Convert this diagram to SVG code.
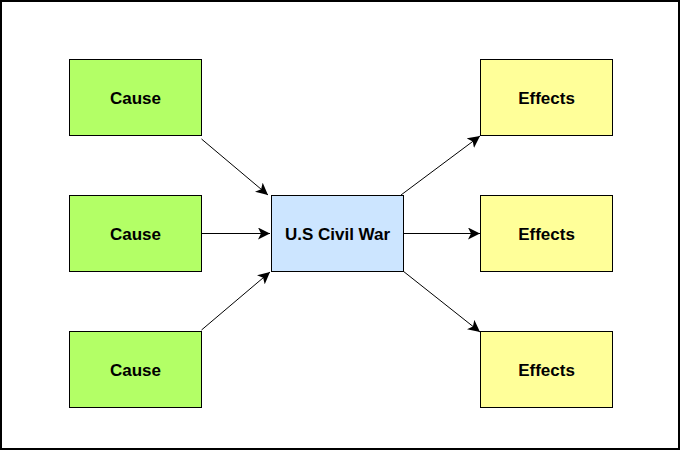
<svg xmlns="http://www.w3.org/2000/svg" width="680" height="450" viewBox="0 0 680 450">
<style>
.b{stroke:#000;stroke-width:1}
.c{fill:#b3ff66}.e{fill:#ffff99}.m{fill:#cce5ff}
text{font-family:"Liberation Sans",Arial,sans-serif;font-weight:bold;font-size:17px;text-anchor:middle;dominant-baseline:central}
.l{stroke:#000;stroke-width:1;fill:none;marker-end:url(#a)}
</style>
<defs><marker id="a" viewBox="0 0 10 10" refX="10" refY="5" markerWidth="12" markerHeight="12" markerUnits="userSpaceOnUse" orient="auto"><path d="M0,0L10,5L0,10L2.5,5Z" fill="#000"/></marker></defs>
<rect x="1" y="1" width="678" height="448" fill="#fff" stroke="#000" stroke-width="2"/>
<g id="cause1"><rect class="b c" x="69.5" y="59.5" width="132" height="76"/><text x="135.5" y="98">Cause</text></g>
<g id="cause2"><rect class="b c" x="69.5" y="195.5" width="132" height="76"/><text x="135.5" y="234">Cause</text></g>
<g id="cause3"><rect class="b c" x="69.5" y="331.5" width="132" height="76"/><text x="135.5" y="370">Cause</text></g>
<g id="war"><rect class="b m" x="271.5" y="195.5" width="132" height="76"/><text x="337.5" y="234">U.S Civil War</text></g>
<g id="effect1"><rect class="b e" x="480.5" y="59.5" width="132" height="76"/><text x="546.5" y="98">Effects</text></g>
<g id="effect2"><rect class="b e" x="480.5" y="195.5" width="132" height="76"/><text x="546.5" y="234">Effects</text></g>
<g id="effect3"><rect class="b e" x="480.5" y="331.5" width="132" height="76"/><text x="546.5" y="370">Effects</text></g>
<g id="connectors">
<line class="l" x1="201.5" y1="139" x2="268" y2="195"/>
<line class="l" x1="201.5" y1="233.5" x2="270" y2="233.5"/>
<line class="l" x1="201.5" y1="330" x2="270" y2="272"/>
<line class="l" x1="401" y1="195" x2="480" y2="136"/>
<line class="l" x1="403.5" y1="233.5" x2="480" y2="233.5"/>
<line class="l" x1="403" y1="271" x2="480" y2="332"/>
</g>
</svg>
